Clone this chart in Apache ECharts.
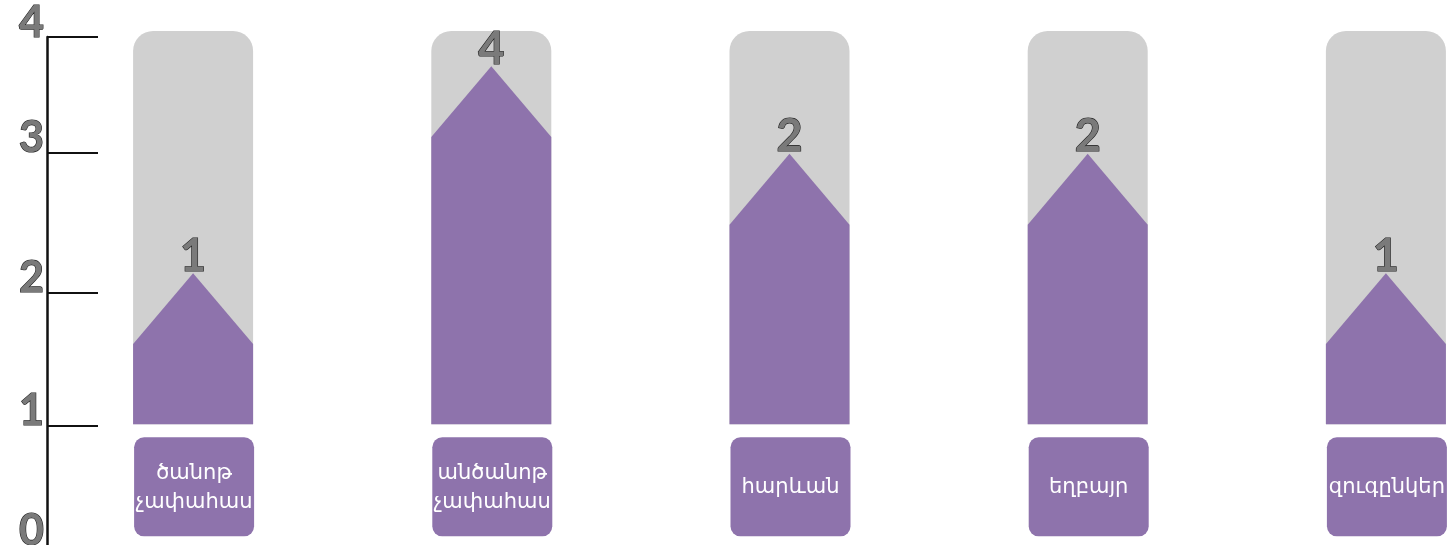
<!DOCTYPE html>
<html>
<head>
<meta charset="utf-8">
<script src="https://cdn.jsdelivr.net/npm/echarts@6/dist/echarts.min.js"></script>
<style>
  html, body { margin: 0; padding: 0; background: #fff; }
  #chart { width: 1455px; height: 545px; }
</style>
</head>
<body>
<div id="chart"></div>
<script>
// category names (shown in the purple boxes)
const categories = ['ծանոթ\nչափահաս', 'անծանոթ\nչափահաս', 'հարևան', 'եղբայր', 'զուգընկեր']
// numbers written above each shape
const counts = [1, 4, 2, 2, 1]
// top of each shape, read against the axis
const peaks = [2.14, 3.77, 3.08, 3.08, 2.14]
// every shape starts from here
const baseValue = 0.95
// the axis ticks are unevenly spaced in the picture
const tickValues = [0, 0.94, 1.99, 3.09, 4]
const tickLabels = ['0', '1', '2', '3', '4']

const purple = '#8e73ac'
const grey = '#d0d0d0'
const digitFont = 'bold 45px Lato, "DejaVu Sans", sans-serif'

let myChart = echarts.init(document.getElementById('chart'))

const seriesData = peaks.map((p, i) => [i, p, counts[i]])

let option = {
  animation: false,
  grid: { left: 44, top: 37, bottom: 0, width: 1491, outerBoundsMode: 'none', containLabel: false },
  xAxis: {
    type: 'category',
    data: categories,
    show: false,
  },
  yAxis: {
    type: 'value',
    min: 0,
    max: 4,
    offset: -3,
    splitLine: { show: false },
    axisLine: { show: true, lineStyle: { color: '#111', width: 2.5 } },
    axisTick: {
      show: true,
      inside: true,
      length: 51,
      customValues: tickValues.slice(1),
      lineStyle: { color: '#111', width: 2 },
    },
    axisLabel: {
      customValues: tickValues,
      margin: 3,
      verticalAlign: 'bottom',
      lineHeight: 28,
      fontSize: 43,
      fontWeight: 'bold',
      fontFamily: 'Lato, "DejaVu Sans", sans-serif',
      color: '#7a7a7a',
      textBorderColor: '#222',
      textBorderWidth: 1.2,
      formatter: function (val) {
        let k = 0
        tickValues.forEach((t, j) => {
          if (Math.abs(t - val) < Math.abs(tickValues[k] - val)) k = j
        })
        return tickLabels[k]
      },
    },
  },
  series: [
    {
      type: 'custom',
      data: seriesData,
      encode: { x: 0, y: 1 },
      renderItem: function (params, api) {
        const i = api.value(0)
        const peak = api.coord([i, api.value(1)])
        const base = api.coord([i, baseValue])
        const top = params.coordSys.y
        const cx = peak[0]
        const half = 60
        const shoulderY = peak[1] + half * 1.18
        const boxY = base[1] + 13
        return {
          type: 'group',
          children: [
            {
              type: 'rect',
              shape: { x: cx - half, y: top - 6, width: half * 2, height: base[1] - top + 6, r: [20, 20, 0, 0] },
              style: { fill: grey },
            },
            {
              type: 'polygon',
              shape: {
                points: [
                  [cx - half, base[1]],
                  [cx - half, shoulderY],
                  [cx, peak[1]],
                  [cx + half, shoulderY],
                  [cx + half, base[1]],
                ],
              },
              style: { fill: purple },
            },
            {
              type: 'text',
              x: cx,
              y: peak[1] - 3,
              style: {
                text: String(api.value(2)),
                font: digitFont,
                lineHeight: 28,
                fill: '#7a7a7a',
                stroke: '#222',
                lineWidth: 1.2,
                align: 'center',
                verticalAlign: 'bottom',
              },
            },
            {
              type: 'rect',
              shape: { x: cx - half + 1, y: boxY, width: half * 2, height: 99, r: 10 },
              style: { fill: purple },
            },
            {
              type: 'text',
              x: cx + 1,
              y: boxY + 50,
              style: {
                text: categories[i],
                font: '21px "Noto Sans", "DejaVu Sans", sans-serif',
                fill: '#fff',
                align: 'center',
                verticalAlign: 'middle',
                lineHeight: 29,
              },
            },
          ],
        }
      },
    },
  ],
}
myChart.setOption(option)
</script>
</body>
</html>
